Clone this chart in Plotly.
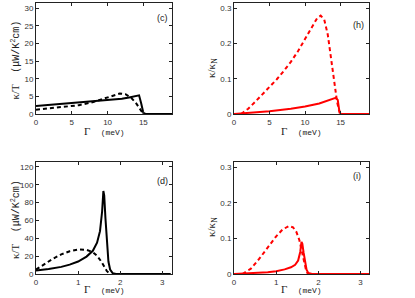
import plotly.graph_objects as go

# Panel (c): kappa/T vs Gamma (meV)
c_solid_x = [0, 2, 4, 6, 8, 10, 12, 13, 14, 14.4, 14.7, 15.0, 15.3, 19]
c_solid_y = [2.3, 2.6, 2.9, 3.2, 3.5, 3.8, 4.3, 4.7, 5.1, 5.3, 3.0, 0.3, 0, 0]
c_dash_x = [0, 2, 4, 6, 8, 10, 11, 11.7, 12.5, 13.3, 14.0, 14.6, 15.0]
c_dash_y = [1.2, 1.6, 2.0, 2.5, 3.4, 4.6, 5.4, 5.8, 5.6, 4.6, 3.0, 1.3, 0]

# Panel (h): kappa/kappa_N vs Gamma (meV)
h_solid_x = [0, 2, 5, 8, 10, 12, 13.5, 14.3, 14.6, 14.8, 15.0, 19]
h_solid_y = [0, 0.003, 0.008, 0.015, 0.021, 0.030, 0.039, 0.046, 0.040, 0.012, 0, 0]
h_dash_x = [1.0, 2, 3, 4, 5, 6, 7, 8, 9, 10, 11, 11.7, 12.2, 12.7, 13.2, 13.7, 14.1, 14.5, 14.9]
h_dash_y = [0, 0.015, 0.035, 0.055, 0.075, 0.098, 0.122, 0.148, 0.178, 0.212, 0.248, 0.272, 0.279, 0.268, 0.225, 0.155, 0.09, 0.035, 0]

# Panel (d): kappa/T vs Gamma (meV)
d_solid_x = [0, 0.3, 0.6, 0.8, 1.0, 1.2, 1.35, 1.45, 1.52, 1.57, 1.6, 1.62, 1.65, 1.68, 1.72, 1.76, 1.82, 1.9, 3.2]
d_solid_y = [4, 5.5, 8, 10.5, 14, 19.5, 26, 35, 48, 70, 93, 88, 62, 35, 14, 5, 1, 0, 0]
d_dash_x = [0, 0.2, 0.4, 0.6, 0.8, 1.0, 1.2, 1.35, 1.45, 1.55, 1.62, 1.68, 1.75]
d_dash_y = [5, 11, 17, 22, 25.5, 27.5, 27, 24.5, 20.5, 14, 8, 3.5, 0.5]

# Panel (i): kappa/kappa_N vs Gamma (meV)
i_solid_x = [0, 0.5, 0.8, 1.0, 1.2, 1.35, 1.45, 1.52, 1.57, 1.6, 1.62, 1.65, 1.68, 1.72, 1.76, 1.85, 3.2]
i_solid_y = [0, 0.002, 0.005, 0.008, 0.013, 0.019, 0.026, 0.038, 0.062, 0.09, 0.085, 0.06, 0.035, 0.012, 0.003, 0, 0]
i_dash_x = [0.2, 0.4, 0.6, 0.8, 1.0, 1.15, 1.3, 1.4, 1.48, 1.55, 1.6, 1.65, 1.7, 1.75]
i_dash_y = [0, 0.015, 0.043, 0.076, 0.106, 0.125, 0.135, 0.131, 0.118, 0.095, 0.07, 0.04, 0.015, 0]

c_ticks_x = [0, 5, 10, 15]
c_ticks_y = [0, 5, 10, 15, 20, 25, 30]
h_ticks_y = [0, 0.1, 0.2, 0.3]
d_ticks_x = [0, 1, 2, 3]
d_ticks_y = [0, 20, 40, 60, 80, 100, 120]
i_ticks_y = [0, 0.1, 0.2, 0.3]

W, H = 415, 298
fig = go.Figure()

def px_x(p):
    return p / W

def px_y(p):
    return 1 - p / H

BLACK = "black"
RED = "#ff0000"
LW = 2

fig.add_trace(go.Scatter(x=c_solid_x, y=c_solid_y, mode="lines", line=dict(color=BLACK, width=LW), xaxis="x", yaxis="y"))
fig.add_trace(go.Scatter(x=c_dash_x, y=c_dash_y, mode="lines", line=dict(color=BLACK, width=LW, dash="4px,3px"), xaxis="x", yaxis="y"))
fig.add_trace(go.Scatter(x=h_dash_x, y=h_dash_y, mode="lines", line=dict(color=RED, width=LW, dash="4px,3px"), xaxis="x2", yaxis="y2"))
fig.add_trace(go.Scatter(x=h_solid_x, y=h_solid_y, mode="lines", line=dict(color=RED, width=LW), xaxis="x2", yaxis="y2"))
fig.add_trace(go.Scatter(x=d_dash_x, y=d_dash_y, mode="lines", line=dict(color=BLACK, width=LW, dash="4px,3px"), xaxis="x3", yaxis="y3"))
fig.add_trace(go.Scatter(x=d_solid_x, y=d_solid_y, mode="lines", line=dict(color=BLACK, width=LW), xaxis="x3", yaxis="y3"))
fig.add_trace(go.Scatter(x=i_dash_x, y=i_dash_y, mode="lines", line=dict(color=RED, width=LW, dash="4px,3px"), xaxis="x4", yaxis="y4"))
fig.add_trace(go.Scatter(x=i_solid_x, y=i_solid_y, mode="lines", line=dict(color=RED, width=LW), xaxis="x4", yaxis="y4"))

tickfont = dict(family="Liberation Sans, Arial", size=8, color="#333")
common = dict(showgrid=False, zeroline=False, showline=True, linecolor="#222", linewidth=1,
              mirror="ticks", ticks="inside", ticklen=3, tickcolor="#222", tickfont=tickfont,
              automargin=False)

left_dom = [px_x(36), px_x(172)]
right_dom = [px_x(234), px_x(369)]
top_dom = [px_y(114), px_y(3)]
bot_dom = [px_y(274), px_y(162)]

fig.update_layout(
    width=W, height=H, margin=dict(l=0, r=0, t=0, b=0, autoexpand=False),
    paper_bgcolor="white", plot_bgcolor="white", showlegend=False,
    xaxis=dict(domain=left_dom, range=[0, 19], tickvals=c_ticks_x, anchor="y", **common),
    yaxis=dict(domain=top_dom, range=[0, 31.5], tickvals=c_ticks_y, anchor="x", **common),
    xaxis2=dict(domain=right_dom, range=[0, 19], tickvals=c_ticks_x, anchor="y2", **common),
    yaxis2=dict(domain=top_dom, range=[0, 0.315], tickvals=h_ticks_y, ticktext=["0", "0.1", "0.2", "0.3"], anchor="x2", **common),
    xaxis3=dict(domain=left_dom, range=[0, 3.23], tickvals=d_ticks_x, anchor="y3", **common),
    yaxis3=dict(domain=bot_dom, range=[0, 125.5], tickvals=d_ticks_y, anchor="x3", **common),
    xaxis4=dict(domain=right_dom, range=[0, 3.2], tickvals=d_ticks_x, anchor="y4", **common),
    yaxis4=dict(domain=bot_dom, range=[0, 0.315], tickvals=i_ticks_y, ticktext=["0", "0.1", "0.2", "0.3"], anchor="x4", **common),
)

lab_font = dict(family="Liberation Serif, DejaVu Serif", size=11, color="#222")
ann = []
# x-axis titles
for xc, yc in [((36 + 172) / 2, 131), ((234 + 369) / 2, 131), ((36 + 172) / 2, 289), ((234 + 369) / 2, 289)]:
    ann.append(dict(x=px_x(xc), y=px_y(yc), xref="paper", yref="paper", showarrow=False,
                    text="Γ  <span style='font-size:8px;font-family:Liberation Mono, DejaVu Sans Mono'> (meV)</span>",
                    font=lab_font, xanchor="center", yanchor="middle"))
# y-axis titles
ykt = "κ/T  <span style='font-size:10px;font-family:Liberation Mono, DejaVu Sans Mono'> (μW/K<sup>2</sup>cm)</span>"
for yc in [(3 + 114) / 2 + 2, (162 + 274) / 2 + 2]:
    ann.append(dict(x=px_x(15), y=px_y(yc), xref="paper", yref="paper", showarrow=False, textangle=-90,
                    text=ykt, font=lab_font, xanchor="center", yanchor="middle"))
ykn = "κ/κ<sub>N</sub>"
for yc in [68, 227]:
    ann.append(dict(x=px_x(212), y=px_y(yc), xref="paper", yref="paper", showarrow=False, textangle=-90,
                    text=ykn, font=lab_font, xanchor="center", yanchor="middle"))
# panel labels
for lab, xc, yc in [("(c)", 162, 18), ("(h)", 358, 25), ("(d)", 162, 181), ("(i)", 357, 176)]:
    ann.append(dict(x=px_x(xc), y=px_y(yc), xref="paper", yref="paper", showarrow=False,
                    text=lab, font=dict(family="Liberation Sans, Arial", size=9, color="#222"),
                    xanchor="center", yanchor="middle"))
fig.update_layout(annotations=ann)

fig.write_html("out.html", config={"displayModeBar": False},
               post_script="document.body.style.margin='0';document.body.style.overflow='hidden';")
